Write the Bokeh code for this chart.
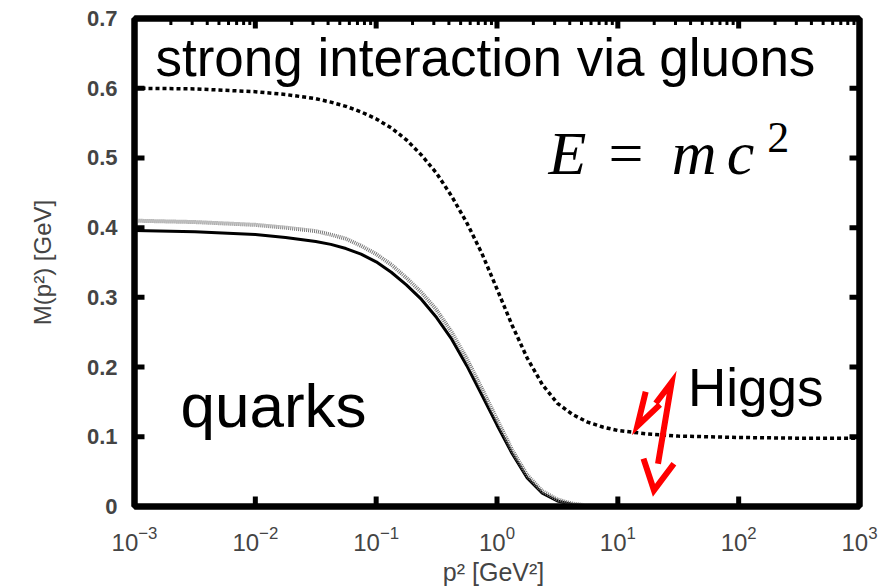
from bokeh.plotting import figure
from bokeh.models import (Label, LinearAxis, LogAxis, FixedTicker, Range1d,
                          LogTickFormatter)
from bokeh.embed import file_html
from bokeh.resources import INLINE

# ---------------- data ----------------
log_p2 = [-3.0, -2.5, -2.0, -1.75, -1.5, -1.375, -1.25, -1.125, -1.0, -0.875,
          -0.75, -0.625, -0.5, -0.375, -0.25, -0.125, 0.0, 0.125, 0.25, 0.375,
          0.5, 0.625, 0.75, 0.875, 1.0, 1.25, 1.5, 2.0, 2.5, 3.0]

# solid black curve
m_solid = [0.396, 0.394, 0.390, 0.386, 0.380, 0.376, 0.370, 0.362, 0.351, 0.336,
           0.318, 0.297, 0.271, 0.240, 0.202, 0.160, 0.117, 0.076, 0.041, 0.019,
           0.008, 0.003, 0.001, 0.0, 0.0, 0.0, 0.0, 0.0, 0.0, 0.0]

# grey dotted curve
m_grey = [0.410, 0.408, 0.404, 0.400, 0.395, 0.390, 0.384, 0.374, 0.362, 0.347,
          0.328, 0.307, 0.282, 0.250, 0.212, 0.169, 0.125, 0.081, 0.045, 0.022,
          0.010, 0.004, 0.0015, 0.0005, 0.0, 0.0, 0.0, 0.0, 0.0, 0.0]

# black dashed curve
m_dashed = [0.600, 0.599, 0.595, 0.591, 0.585, 0.580, 0.574, 0.566, 0.556, 0.543,
            0.526, 0.504, 0.478, 0.445, 0.407, 0.363, 0.312, 0.260, 0.213, 0.175,
            0.148, 0.132, 0.121, 0.114, 0.109, 0.104, 0.101, 0.099, 0.098, 0.098]

p2 = [10 ** e for e in log_p2]

x_ticks = [1e-3, 1e-2, 1e-1, 1e0, 1e1, 1e2, 1e3]
x_minor = [m * d for d in x_ticks[:-1] for m in range(2, 10)]
y_ticks = [0, 0.1, 0.2, 0.3, 0.4, 0.5, 0.6, 0.7]
y_tick_labels = ["0", "0.1", "0.2", "0.3", "0.4", "0.5", "0.6", "0.7"]

X_MIN, X_MAX = 1e-3, 1e3
Y_MIN, Y_MAX = 0.0, 0.7

# ---------------- figure ----------------
p = figure(width=891, height=588, x_axis_type="log",
           x_range=Range1d(X_MIN, X_MAX), y_range=Range1d(Y_MIN, Y_MAX),
           output_backend="svg", toolbar_location=None,
           min_border_left=134, min_border_right=32,
           min_border_top=18, min_border_bottom=80,
           background_fill_color="white", border_fill_color="white")
p.grid.visible = False
p.outline_line_color = "black"
p.outline_line_width = 6

TICK_FONT = "Liberation Sans"

# bottom axis
xa = p.xaxis[0]
xa.ticker = FixedTicker(ticks=x_ticks)
xa.formatter = LogTickFormatter()
xa.axis_line_width = 6
xa.major_tick_line_color = None
xa.minor_tick_line_color = None
xa.major_label_text_font = TICK_FONT
xa.major_label_text_font_size = "24px"
xa.major_label_standoff = 13
xa.axis_label = "p²  [GeV²]"
xa.axis_label_text_font = TICK_FONT
xa.axis_label_text_font_style = "normal"
xa.axis_label_text_font_size = "25px"
xa.axis_label_standoff = 4

# left axis
ya = p.yaxis[0]
ya.ticker = FixedTicker(ticks=y_ticks)
ya.major_label_overrides = dict(zip(y_ticks, y_tick_labels))
ya.axis_line_width = 6
ya.major_tick_line_color = None
ya.minor_tick_line_color = None
ya.major_label_text_font = TICK_FONT
ya.major_label_text_font_style = "bold"
ya.major_label_text_font_size = "22px"
ya.major_label_standoff = 11
ya.axis_label = "M(p²) [GeV]"
ya.axis_label_text_font = TICK_FONT
ya.axis_label_text_font_style = "normal"
ya.axis_label_text_font_size = "24px"
ya.axis_label_standoff = 28

# mirrored right / top axis lines
ra = LinearAxis(ticker=FixedTicker(ticks=[]), axis_line_width=6,
                major_tick_line_color=None, minor_tick_line_color=None,
                major_label_text_font_size="0px", major_label_standoff=0)
p.add_layout(ra, "right")
ta = LogAxis(ticker=FixedTicker(ticks=[]), axis_line_width=6,
             major_tick_line_color=None, minor_tick_line_color=None,
             major_label_text_font_size="0px", major_label_standoff=0)
p.add_layout(ta, "above")

# inward tick marks (drawn at the tick values on all four edges)
TK = dict(fill_color="black", line_color=None, width_units="screen",
          height_units="screen")
p.rect(x=x_ticks, y=[Y_MIN] * len(x_ticks), width=5, height=20, **TK)
p.rect(x=x_ticks, y=[Y_MAX] * len(x_ticks), width=5, height=20, **TK)
p.rect(x=x_minor, y=[Y_MAX] * len(x_minor), width=3, height=13, **TK)
p.rect(x=[X_MIN] * len(y_ticks), y=y_ticks, width=20, height=5, **TK)
p.rect(x=[X_MAX] * len(y_ticks), y=y_ticks, width=20, height=5, **TK)

# ---------------- curves ----------------
p.line(p2, m_dashed, line_color="black", line_width=3.5, line_dash="4 3")
p.line(p2, m_solid, line_color="black", line_width=3)
p.line(p2, m_grey, line_color="#7a7a7a", line_width=4, line_dash="1 1")

# ---------------- lightning bolt (Higgs) ----------------
bolt_a_x = [17.0, 14.5, 22.3]
bolt_a_y = [0.1647, 0.1153, 0.1461]
bolt_b_x = [20.6, 27.9, 21.5]
bolt_b_y = [0.1481, 0.1781, 0.0614]
bolt_c_x = [16.3, 19.9, 29.1]
bolt_c_y = [0.0686, 0.0233, 0.0614]
for bx, by in ((bolt_a_x, bolt_a_y), (bolt_b_x, bolt_b_y), (bolt_c_x, bolt_c_y)):
    p.line(bx, by, line_color="#ff0000", line_width=6, line_join="miter")

# ---------------- text annotations ----------------
def add_label(x, y, text, size, font="Liberation Sans", style="normal"):
    p.add_layout(Label(x=x, y=y, text=text, text_font=font,
                       text_font_size=size, text_font_style=style,
                       text_baseline="alphabetic", text_align="left",
                       text_color="black"))

add_label(0.00149, 0.6443, "strong interaction via gluons", "53px")
add_label(0.00240, 0.1443, "quarks", "62px")
add_label(38.0, 0.1700, "Higgs", "53px")

SERIF = "Liberation Serif"
add_label(2.67, 0.5071, "E", "62px", SERIF, "italic")
add_label(8.39, 0.5071, "=", "62px", SERIF)
add_label(27.9, 0.5071, "m", "62px", SERIF, "italic")
add_label(79.6, 0.5071, "c", "62px", SERIF, "italic")
add_label(172.0, 0.5300, "2", "44px", SERIF)

open("out.html", "w").write(file_html(p, INLINE))
